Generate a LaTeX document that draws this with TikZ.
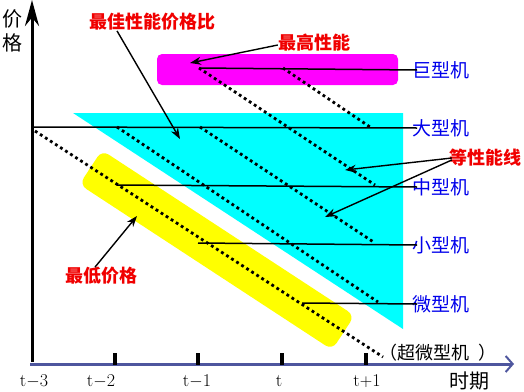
\documentclass[tikz,border=0pt]{standalone}
\usepackage{fontspec}
\newfontfamily\cjk{Noto Sans CJK SC}
\usetikzlibrary{arrows.meta,positioning,calc}
\definecolor{axisblue}{RGB}{78,86,158}
\definecolor{labelred}{RGB}{240,0,0}
\definecolor{labelblue}{RGB}{0,0,235}
\definecolor{fillcyan}{RGB}{0,255,255}
\definecolor{fillmagenta}{RGB}{255,0,255}
\definecolor{fillyellow}{RGB}{255,255,0}

\begin{document}
\begin{tikzpicture}[
    x=1pt, y=-1pt,
    machine/.style={font=\cjk\fontsize{19}{19}\selectfont, text=labelblue, inner sep=0pt, anchor=west},
    note/.style={font=\cjk\bfseries\fontsize{18}{18}\selectfont, text=labelred, inner sep=0pt},
    ticklabel/.style={font=\fontsize{18}{18}\selectfont, inner sep=0pt},
    level/.style={line width=1.5pt},
    equal/.style={line width=2.8pt, dash pattern=on 2.8pt off 3.2pt},
    arrow/.style={-{Stealth[length=11pt,width=8pt]}, line width=1.4pt},
]
\useasboundingbox (0,0) rectangle (524,391);

% shaded regions
\fill[fillcyan] (73,113) -- (403,113) -- (403,329) -- cycle;
\fill[fillmagenta, rounded corners=5pt] (157,54) rectangle (398,85);
\node[fill=fillyellow, rounded corners=8pt, rotate=-33.2, inner sep=0pt,
      minimum width=302pt, minimum height=41pt] (band) at (217,250) {};

% axes
\coordinate (ybot) at (32,362);
\coordinate (ytop) at (32,0);
\coordinate (xbeg) at (30,364);
\coordinate (xend) at (514,364);
\draw[line width=3pt, -{Stealth[length=26pt,width=14pt]}] (ybot) -- (ytop);
\draw[axisblue, line width=3pt, -{Straight Barb[length=7pt,width=16pt,line width=2pt]}] (xbeg) -- (xend);
\node[font=\cjk\fontsize{20}{24}\selectfont, align=center, inner sep=0pt] (price) at (12,31) {价\\格};
\node[font=\cjk\fontsize{20}{20}\selectfont, inner sep=0pt] (period) at (469,381) {时期};

% ticks and time labels
\foreach \x/\nm in {115/tb, 198/tc, 282/td, 366/te}
    \draw[line width=4pt] (\x,353) coordinate (\nm) -- (\x,365);
\node[ticklabel] (ta) at (34,381) {t$-$3};
\node[ticklabel] (tb label) at (101,381) {t$-$2};
\node[ticklabel] (tc label) at (197,381) {t$-$1};
\node[ticklabel] (td label) at (279,381) {t};
\node[ticklabel] (te label) at (367,381) {t$+$1};

% machine classes
\node[machine] (giant) at (412,70) {巨型机};
\node[machine] (large) at (412,128) {大型机};
\node[machine] (medium) at (412,187) {中型机};
\node[machine] (small) at (412,245) {小型机};
\node[machine] (micro) at (412,304) {微型机};
\node[machine, text=black, font=\cjk\fontsize{18}{18}\selectfont] (ultra) at (379,353) {（超微型机\hspace{9pt}）};

\coordinate (giantA) at (199,68);
\coordinate (giantB) at (283,68);
\coordinate (largeA) at (32,127);
\coordinate (largeB) at (117,127);
\coordinate (largeC) at (200,127);
\coordinate (largeD) at (370,127);
\coordinate (mediumA) at (117,185);
\coordinate (mediumD) at (375,185);
\coordinate (smallA) at (198,243);
\coordinate (smallD) at (375,243);
\coordinate (microA) at (302,303);
\coordinate (microD) at (378,302);
\coordinate (lowA) at (35,131);
\coordinate (lowD) at (383,357);

\draw[level] (giantA) -- ([xshift=5pt]giant.west);
\draw[level] (largeA) -- ([xshift=5pt]large.west);
\draw[level] (mediumA) -- ([xshift=5pt]medium.west);
\draw[level] (smallA) -- ([xshift=5pt]small.west);
\draw[level] (microA) -- ([xshift=5pt]micro.west);

% equal performance lines
\draw[equal] (lowA) -- (lowD);
\draw[equal] (largeB) -- (microD);
\draw[equal] (largeC) -- (smallD);
\draw[equal] (giantA) -- (mediumD);
\draw[equal] (giantB) -- (largeD);

% notes
\node[note] (best) at (152,22) {最佳性能价格比};
\node[note] (peak) at (314,43) {最高性能};
\node[note] (same) at (485,158) {等性能线};
\node[note] (cheap) at (101,276) {最低价格};
\coordinate (bestpt) at (180,139);
\coordinate (peakpt) at (190,63);
\coordinate (samepta) at (345,170);
\coordinate (sameptb) at (325,217);
\coordinate (cheappt) at (137,216);

\draw[arrow] ([xshift=-35pt]best.south) -- (bestpt);
\draw[arrow] ([yshift=-2pt]peak.west) -- (peakpt);
\draw[arrow] ([xshift=3pt]same.west) -- (samepta);
\draw[arrow] ([xshift=3pt,yshift=-2pt]same.west) -- (sameptb);
\draw[arrow] ([xshift=-6pt]cheap.north) -- (cheappt);
\end{tikzpicture}
\end{document}
